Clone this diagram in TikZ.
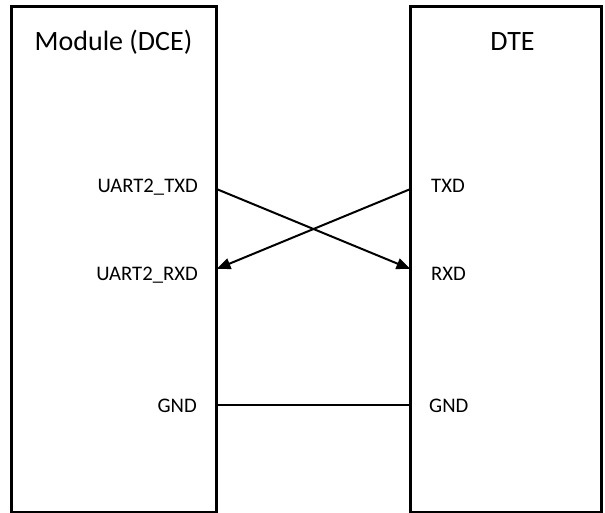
\documentclass[tikz,border=0pt]{standalone}
\usepackage{fontspec}
\setmainfont{Carlito}
\usetikzlibrary{arrows.meta}
\begin{document}
\begin{tikzpicture}[x=1pt,y=-1pt,
  box/.style={draw=black,line width=3pt,inner sep=0pt},
  lbl/.style={font=\fontsize{20.7}{24}\selectfont,inner sep=0pt},
  ttl/.style={font=\fontsize{28}{32}\selectfont,inner sep=0pt,anchor=base},
  wire/.style={line width=2pt},
  arr/.style={wire,-{Triangle[length=14pt,width=11pt]}}]
\useasboundingbox (0,0) rectangle (605,512);
\draw[box] (11.5,6) rectangle (216.5,512.8);
\draw[box] (410.5,6) rectangle (601.5,512.8);
\node[ttl] (t1) at (113.5,50) {Module (DCE)};
\node[ttl] (t2) at (512.5,50) {DTE};
\node[lbl,anchor=base east] (ltx) at (198,192.3) {UART2\_TXD};
\node[lbl,anchor=base east] (lrx) at (198,280.7) {UART2\_RXD};
\node[lbl,anchor=base east] (lgnd) at (197,412.8) {GND};
\node[lbl,anchor=base west] (rtx) at (431,192.3) {TXD};
\node[lbl,anchor=base west] (rrx) at (431,280.7) {RXD};
\node[lbl,anchor=base west] (rgnd) at (429,412.8) {GND};
\coordinate (a1) at (216.5,189);
\coordinate (a2) at (216.5,269);
\coordinate (a3) at (216.5,405);
\coordinate (b1) at (410.5,189);
\coordinate (b2) at (410.5,269);
\coordinate (b3) at (410.5,405);
\draw[arr] (a1) -- (b2);
\draw[arr] (b1) -- (a2);
\draw[wire] (a3) -- (b3);
\end{tikzpicture}
\end{document}
